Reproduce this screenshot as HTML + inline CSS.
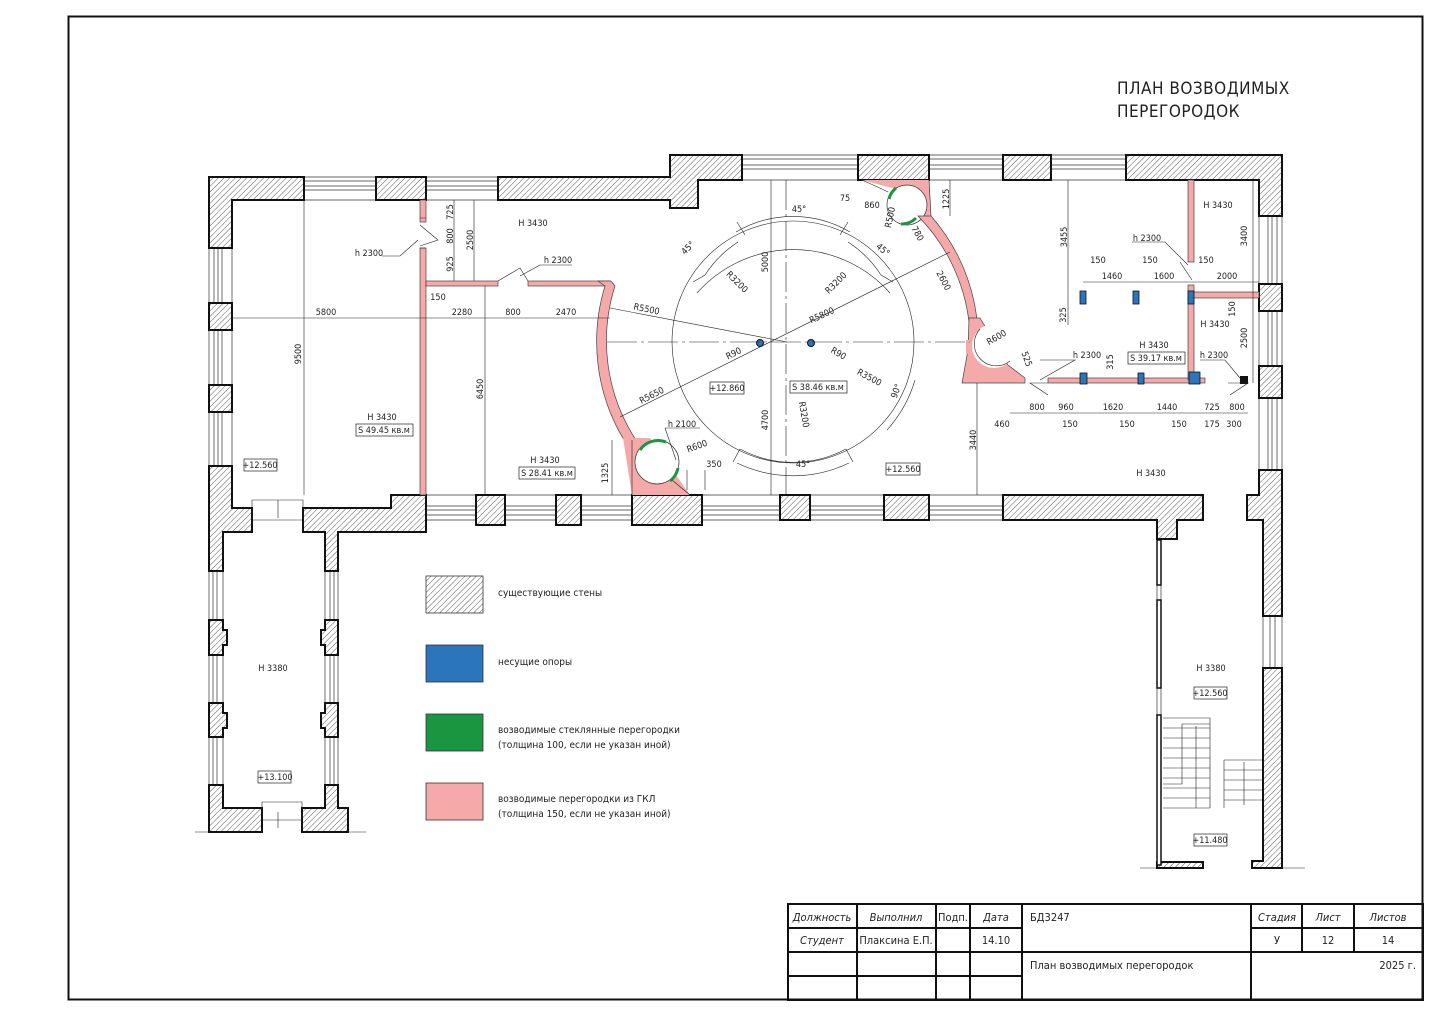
<!DOCTYPE html>
<html><head><meta charset="utf-8"><style>
html,body{margin:0;padding:0;background:#fff;}
svg{display:block;}
text{font-family:"DejaVu Sans Condensed","Liberation Sans",sans-serif;font-size:9px;fill:#222;}
.t{font-size:9px;text-anchor:middle;}
.w{fill:url(#h);stroke:#111;stroke-width:2;}
.win{fill:none;stroke:#333;stroke-width:0.7;}
.p{fill:#f5a9a9;stroke:#444;stroke-width:0.7;}
.pn{fill:#f5a9a9;stroke:none;}
.d{fill:none;stroke:#222;stroke-width:0.6;}
.tb{fill:none;stroke:#111;stroke-width:2;}
.tbt{font-family:"DejaVu Sans Condensed","Liberation Sans",sans-serif;font-size:11px;font-style:italic;text-anchor:middle;}
.bx{fill:#fff;stroke:#222;stroke-width:0.7;}
</style></head><body>
<svg width="1440" height="1018" viewBox="0 0 1440 1018" xmlns="http://www.w3.org/2000/svg">
<defs>
<pattern id="h" patternUnits="userSpaceOnUse" width="4" height="4" patternTransform="rotate(45)">
<rect width="4" height="4" fill="#fff"/><line x1="0" y1="0" x2="0" y2="4" stroke="#333" stroke-width="0.8"/>
</pattern>
</defs>
<rect x="0" y="0" width="1440" height="1018" fill="#fff"/>
<rect x="68.5" y="16.5" width="1354" height="983" fill="none" stroke="#111" stroke-width="2"/>
<text x="1117" y="94" style="font-size:17px;letter-spacing:0.5px">ПЛАН ВОЗВОДИМЫХ</text>
<text x="1117" y="117" style="font-size:17px;letter-spacing:0.5px">ПЕРЕГОРОДОК</text>

<g class="win">
<path d="M304,177H376M304,181H376M304,186H376M304,190H376M304,200H376M304,177V200M376,177V200"/>
<path d="M426,177H498M426,181H498M426,186H498M426,190H498M426,200H498"/>
<path d="M741,155H858M741,159H858M741,165H858M741,169H858M741,180H858"/>
<path d="M929,155H1003M929,159H1003M929,165H1003M929,169H1003M929,180H1003"/>
<path d="M1051,155H1126M1051,159H1126M1051,165H1126M1051,169H1126M1051,180H1126"/>
<path d="M426,495H1003M426,506H1003M426,510H1003M426,515H1003M426,520H1003"/>
<path d="M209,248V466M214,248V466M218,248V466M222,248V466M232,248V466"/>
<path d="M1259,216V470M1268,216V470M1272,216V470M1277,216V470M1282,216V470"/>
<path d="M1263,616V668M1270,616V668M1275,616V668M1282,616V668"/>
<path d="M209,571V785M213,571V785M217,571V785M223,571V785"/>
<path d="M325,571V785M330,571V785M334,571V785M338,571V785"/>
<path d="M1157,540V862M1161,540V862"/>
</g>
<polygon class="w" points="209,177 304,177 304,200 232,200 232,248 209,248"/>
<rect class="w" x="376" y="177" width="50" height="23"/>
<polygon class="w" points="498,177 670,177 670,155 742,155 742,180 698,180 698,208 670,208 670,200 498,200"/>
<rect class="w" x="858" y="155" width="71" height="25"/>
<rect class="w" x="1003" y="155" width="48" height="25"/>
<polygon class="w" points="1126,155 1282,155 1282,216 1259,216 1259,180 1126,180"/>
<rect class="w" x="1259" y="284" width="23" height="27"/>
<rect class="w" x="1259" y="366" width="23" height="32"/>
<polygon class="w" points="1259,470 1282,470 1282,616 1263,616 1263,520 1247,520 1247,495 1259,495"/>
<polygon class="w" points="1263,668 1282,668 1282,868 1252,868 1252,861 1263,861"/>
<polygon class="w" points="1157,862 1203,862 1203,868 1157,868"/>
<rect x="1157" y="540" width="4" height="45" fill="#fff" stroke="#111" stroke-width="1.5"/>
<rect x="1157" y="600" width="4" height="88" fill="#fff" stroke="#111" stroke-width="1.5"/>
<rect x="1157" y="715" width="4" height="150" fill="#fff" stroke="#111" stroke-width="1.5"/>
<rect class="w" x="209" y="303" width="23" height="27"/>
<rect class="w" x="209" y="385" width="23" height="27"/>
<polygon class="w" points="209,466 232,466 232,508 252,508 252,532 223,532 223,571 209,571"/>
<polygon class="w" points="303,508 391,508 391,495 426,495 426,532 338,532 338,571 325,571 325,532 303,532"/>
<rect class="w" x="476" y="495" width="29" height="30"/>
<rect class="w" x="556" y="495" width="25" height="30"/>
<rect class="w" x="632" y="495" width="70" height="30"/>
<rect class="w" x="780" y="495" width="30" height="25"/>
<rect class="w" x="884" y="495" width="45" height="25"/>
<polygon class="w" points="1003,495 1203,495 1203,520 1177,520 1177,539 1157,539 1157,520 1003,520"/>
<polygon class="w" points="209,620 223,620 223,630 227,630 227,645 223,645 223,655 209,655"/>
<polygon class="w" points="209,703 223,703 223,713 227,713 227,728 223,728 223,737 209,737"/>
<polygon class="w" points="338,620 325,620 325,630 321,630 321,645 325,645 325,655 338,655"/>
<polygon class="w" points="338,703 325,703 325,713 321,713 321,728 325,728 325,737 338,737"/>
<polygon class="w" points="209,785 223,785 223,808 262,808 262,832 209,832"/>
<polygon class="w" points="302,808 325,808 325,785 338,785 338,808 348,808 348,832 302,832"/>
<path class="d" d="M195,832H209M348,832H366M1140,868H1157M1282,868H1305M252,500H303V520H252ZM262,802H302V820H262ZM278,500V518M278,812V828"/>
<path class="d" d="M1163,718H1210V808H1163M1210,724H1182V784H1163M1163,728H1210M1163,738H1210M1163,748H1210M1163,758H1210M1163,768H1210M1163,778H1210M1163,788H1210M1163,798H1210M1224,760H1263M1224,770H1263M1224,780H1263M1224,790H1263M1224,800H1263M1224,760V808M1196,726V808M1244,762V805"/>

<rect class="p" x="420" y="200" width="6" height="22"/>
<rect class="p" x="420" y="248" width="6" height="247"/>
<rect class="p" x="426" y="281" width="72" height="5"/>
<rect class="p" x="528" y="281" width="82" height="5"/>
<path class="p" d="M598,281 L611,281 L615,286 A181,181 0 0 0 636,440 L624,440 A190,190 0 0 1 605,286 Z"/>
<polygon class="pn" points="623,438 650,438 690,495 632,495"/>
<path class="d" d="M632,440V495M690,495L672,480"/>
<circle cx="657" cy="462" r="22" fill="#fff" stroke="#333" stroke-width="0.7"/>
<polygon class="pn" points="862,180 929,180 931,216 918,222 900,190"/>
<path class="d" d="M862,180 Q880,188 888,192 M929,180 L931,216"/>
<circle cx="907" cy="205" r="20" fill="#fff" stroke="#333" stroke-width="0.7"/>
<path class="p" d="M918,216 L931,216 A190,190 0 0 1 977,320 L969,322 A182,182 0 0 0 918,216 Z"/>
<polygon class="p" points="969,318 980,318 1008,365 1025,378 1025,383 962,383 968,350"/>
<circle cx="994" cy="346" r="22" fill="#fff" stroke="none"/>
<path class="d" d="M980,329 A22,22 0 0 0 1010,361" stroke="#333" stroke-width="0.7"/>
<rect x="966" y="340" width="6" height="14" fill="#f5a9a9"/>
<rect class="p" x="1048" y="378" width="157" height="5"/>
<rect class="p" x="1188" y="180" width="6" height="82"/>
<rect class="p" x="1188" y="285" width="6" height="95"/>
<rect class="p" x="1194" y="292" width="65" height="6"/>
<path d="M640,450 A22,22 0 0 1 666,442" fill="none" stroke="#1a9641" stroke-width="3"/>
<path d="M678,468 A22,22 0 0 1 670,481" fill="none" stroke="#1a9641" stroke-width="3"/>
<path d="M896,188 A20,20 0 0 0 889,199" fill="none" stroke="#1a9641" stroke-width="3"/>
<path d="M901,224 A20,20 0 0 0 916,218" fill="none" stroke="#1a9641" stroke-width="3"/>
<g fill="#2a75bb" stroke="#111" stroke-width="0.8">
<rect x="1080" y="291" width="6" height="13"/><rect x="1133" y="291" width="6" height="13"/><rect x="1188" y="291" width="6" height="13"/>
<rect x="1080" y="373" width="7" height="11"/><rect x="1138" y="373" width="6" height="11"/><rect x="1189" y="372" width="11" height="12"/>
</g>
<rect x="1240" y="376" width="8" height="8" fill="#111"/>
<circle cx="760" cy="343" r="3.5" fill="#2a75bb" stroke="#111"/>
<circle cx="811" cy="343" r="3.5" fill="#2a75bb" stroke="#111"/>

<g class="d">
<circle cx="793" cy="342" r="121"/>
<path d="M607,342H970" stroke-dasharray="30,4,3,4"/>
<path d="M786,180V495" stroke-dasharray="30,4,3,4"/>
<path d="M771,180V495"/>
<path d="M736,232 A112,112 0 0 1 850,232 M705,275 A112,112 0 0 1 738,242 M848,242 A112,112 0 0 1 881,275 M740,449 A112,112 0 0 0 846,449"/>
<path d="M697,293 A129,129 0 0 1 890,293 M737,463 A129,129 0 0 0 849,463 M887,430 A129,129 0 0 0 915,380"/>
<path d="M610,308 L787,342 M620,417 L950,252"/>
<path d="M745,235L737,222M705,275L693,282M840,235L848,222M881,275L893,282M740,449L733,462M846,449L853,462"/>
<path d="M304,200V495M232,318H610M485,286V495M474,200V281M454,200V281M1068,180V325M977,383V495M1253,180V383M950,180V216M612,440V495M1083,282H1259M1010,413H1248M426,218H420M426,248H420"/>
<path d="M382,256H400L418,240M420,225L438,240L420,246M540,265H572M540,265L520,276M498,281L520,268L528,281"/>
<path d="M1132,242H1165L1188,265M1180,262L1192,280M1040,360H1075L1040,380M1048,383L1030,383L1048,395M1200,360H1225L1240,378M1228,383L1248,383L1230,395"/>
<path d="M665,428H700M665,428L676,460M687,470V490M705,470V490"/>
</g>

<rect x="426" y="576" width="57" height="37" fill="url(#h)" stroke="#333" stroke-width="0.8"/>
<rect x="426" y="645" width="57" height="37" fill="#2a75bb" stroke="#333" stroke-width="0.8"/>
<rect x="426" y="714" width="57" height="37" fill="#1a9641" stroke="#333" stroke-width="0.8"/>
<rect x="426" y="783" width="57" height="37" fill="#f5a9a9" stroke="#333" stroke-width="0.8"/>
<text x="498" y="596" style="font-size:10px">существующие стены</text>
<text x="498" y="665" style="font-size:10px">несущие опоры</text>
<text x="498" y="733" style="font-size:10px">возводимые стеклянные перегородки</text>
<text x="498" y="748" style="font-size:10px">(толщина 100, если не указан иной)</text>
<text x="498" y="802" style="font-size:10px">возводимые перегородки из ГКЛ</text>
<text x="498" y="817" style="font-size:10px">(толщина 150, если не указан иной)</text>

<g class="t">
<text x="533" y="226">H 3430</text><text x="369" y="256">h 2300</text><text x="558" y="263">h 2300</text>
<text x="438" y="300">150</text><text x="326" y="315">5800</text><text x="462" y="315">2280</text><text x="513" y="315">800</text><text x="566" y="315">2470</text>
<text transform="translate(453,212) rotate(-90)">725</text><text transform="translate(453,236) rotate(-90)">800</text><text transform="translate(453,264) rotate(-90)">925</text><text transform="translate(473,240) rotate(-90)">2500</text>
<text transform="translate(301,354) rotate(-90)">9500</text><text transform="translate(483,389) rotate(-90)">6450</text>
<text x="382" y="420">H 3430</text><text x="545" y="463">H 3430</text>
<text transform="translate(608,473) rotate(-90)">1325</text>
<text x="682" y="427">h 2100</text><text transform="translate(698,449) rotate(-20)">R600</text><text x="714" y="467">350</text>
<text transform="translate(646,312) rotate(12)">R5500</text><text transform="translate(653,398) rotate(-27)">R5650</text>
<text transform="translate(735,356) rotate(-27)">R90</text><text transform="translate(837,356) rotate(30)">R90</text>
<text transform="translate(868,380) rotate(28)">R3500</text><text transform="translate(899,392) rotate(-70)">90°</text>
<text transform="translate(801,415) rotate(80)">R3200</text><text transform="translate(768,420) rotate(-90)">4700</text>
<text x="803" y="467">45°</text><text transform="translate(690,250) rotate(-45)">45°</text>
<text transform="translate(735,284) rotate(45)">R3200</text><text transform="translate(768,262) rotate(-90)">5000</text>
<text x="799" y="212">45°</text><text transform="translate(881,252) rotate(40)">45°</text>
<text transform="translate(838,285) rotate(-45)">R3200</text><text transform="translate(823,318) rotate(-25)">R5800</text>
<text x="845" y="201">75</text><text x="872" y="208">860</text><text transform="translate(893,218) rotate(-78)">R500</text>
<text transform="translate(915,235) rotate(60)">780</text><text transform="translate(941,282) rotate(62)">2600</text>
<text transform="translate(949,199) rotate(-90)">1225</text><text transform="translate(998,340) rotate(-30)">R600</text>
<text transform="translate(1024,360) rotate(70)">525</text>
<text transform="translate(976,440) rotate(-90)">3440</text><text x="1151" y="476">H 3430</text>
<text transform="translate(1067,237) rotate(-90)">3455</text><text x="1147" y="241">h 2300</text>
<text x="1098" y="263">150</text><text x="1150" y="263">150</text><text x="1206" y="263">150</text>
<text x="1112" y="279">1460</text><text x="1164" y="279">1600</text><text x="1227" y="279">2000</text>
<text x="1218" y="208">H 3430</text><text transform="translate(1247,236) rotate(-90)">3400</text>
<text transform="translate(1066,315) rotate(-90)">325</text><text transform="translate(1235,309) rotate(-90)">150</text>
<text x="1215" y="327">H 3430</text><text transform="translate(1247,338) rotate(-90)">2500</text>
<text x="1154" y="348">H 3430</text><text x="1087" y="358">h 2300</text><text transform="translate(1113,362) rotate(-90)">315</text><text x="1214" y="358">h 2300</text>
<text x="1037" y="410">800</text><text x="1066" y="410">960</text><text x="1113" y="410">1620</text><text x="1167" y="410">1440</text><text x="1212" y="410">725</text><text x="1237" y="410">800</text>
<text x="1002" y="427">460</text><text x="1070" y="427">150</text><text x="1127" y="427">150</text><text x="1179" y="427">150</text><text x="1212" y="427">175</text><text x="1234" y="427">300</text>
<text x="273" y="671">H 3380</text><text x="1211" y="671">H 3380</text>
</g>
<rect class="bx" x="356" y="424" width="57" height="12"/><text class="t" x="384" y="433">S 49.45 кв.м</text>
<rect class="bx" x="519" y="467" width="56" height="12"/><text class="t" x="547" y="476">S 28.41 кв.м</text>
<rect class="bx" x="244" y="459" width="33" height="12"/><text class="t" x="260" y="468">+12.560</text>
<rect class="bx" x="710" y="382" width="34" height="12"/><text class="t" x="727" y="391">+12.860</text>
<rect class="bx" x="790" y="381" width="57" height="12"/><text class="t" x="818" y="390">S 38.46 кв.м</text>
<rect class="bx" x="886" y="463" width="34" height="12"/><text class="t" x="903" y="472">+12.560</text>
<rect class="bx" x="1128" y="352" width="57" height="12"/><text class="t" x="1156" y="361">S 39.17 кв.м</text>
<rect class="bx" x="258" y="771" width="33" height="12"/><text class="t" x="275" y="780">+13.100</text>
<rect class="bx" x="1194" y="687" width="33" height="12"/><text class="t" x="1210" y="696">+12.560</text>
<rect class="bx" x="1194" y="834" width="33" height="12"/><text class="t" x="1210" y="843">+11.480</text>

<rect class="tb" x="788" y="904" width="635" height="96" fill="#fff"/>
<path class="tb" d="M857,904V1000M936,904V1000M970,904V1000M1022,904V1000M1251,904V1000M1302,904V952M1354,904V952M788,928H1022M1251,928H1423M788,952H1423M788,976H1022"/>
<text class="tbt" x="822" y="921">Должность</text><text class="tbt" x="896" y="921">Выполнил</text><text class="tbt" x="953" y="921" style="font-style:normal">Подп.</text><text class="tbt" x="996" y="921">Дата</text>
<text class="tbt" x="822" y="944">Студент</text><text class="tbt" x="896" y="944" style="font-style:normal">Плаксина Е.П.</text><text class="tbt" x="996" y="944" style="font-style:normal">14.10</text>
<text x="1030" y="921" style="font-size:11px">БД3247</text>
<text class="tbt" x="1277" y="921">Стадия</text><text class="tbt" x="1328" y="921">Лист</text><text class="tbt" x="1388" y="921">Листов</text>
<text class="tbt" x="1277" y="944" style="font-style:normal">У</text><text class="tbt" x="1328" y="944" style="font-style:normal">12</text><text class="tbt" x="1388" y="944" style="font-style:normal">14</text>
<text x="1030" y="969" style="font-size:11px">План возводимых перегородок</text>
<text x="1416" y="969" style="font-size:11px;text-anchor:end">2025 г.</text>
</svg>
</body></html>
